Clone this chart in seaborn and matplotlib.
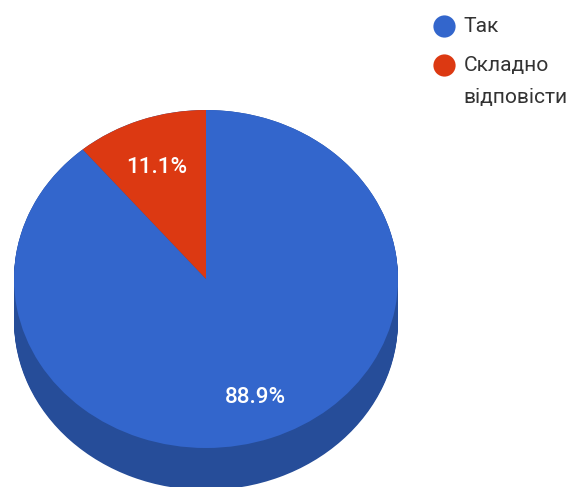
import numpy as np
import matplotlib.pyplot as plt
from matplotlib.lines import Line2D
import seaborn as sns

# Дані
labels = ['Так', 'Складно\nвідповісти']
values = [88.9, 11.1]
pct_labels = ['88.9%', '11.1%']
colors = ['#3366cc', '#dc3912']
side_color = '#264d99'

sns.set_theme(style='white')
plt.rcParams['font.family'] = ['Roboto', 'DejaVu Sans']

W, H = 568, 487
fig = plt.figure(figsize=(W / 100, H / 100), dpi=100)

# вісь охоплює верхній еліпс пирога (14..398, 110..448 px)
ax = fig.add_axes([14 / W, 1 - 448 / H, 384 / W, 338 / H])

# бічна стінка: шари темного кольору зі зсувом вниз
depth = 42 / 169
for off in np.linspace(depth, 0, 40):
    ax.pie([1], colors=[side_color], radius=1, center=(0, -off),
           wedgeprops={'linewidth': 0}, frame=False)

# верхня поверхня
ax.pie(values, colors=colors, startangle=90, counterclock=False,
       wedgeprops={'linewidth': 0}, frame=False)

ax.set_aspect('auto')
ax.set_xlim(-1, 1)
ax.set_ylim(-1, 1)
ax.set_xticks([])
ax.set_yticks([])
for p in ax.patches:
    p.set_clip_on(False)

# підписи відсотків
ax.text(0.255, -0.70, pct_labels[0], color='white', fontsize=16.2, fontweight='medium',
        ha='center', va='center')
ax.text(-0.255, 0.66, pct_labels[1], color='white', fontsize=16.2, fontweight='medium',
        ha='center', va='center')

# легенда: кружечок навпроти першого рядка підпису
tops = [26, 65]
for lab, c, y in zip(labels, colors, tops):
    fig.add_artist(Line2D([444 / W], [1 - y / H], marker='o', linestyle='', color=c,
                          markersize=16, markeredgewidth=0))
    fig.text(463.5 / W, 1 - (y - 9) / H, lab, fontsize=15.1, color='#333333', va='top',
             ha='left', linespacing=1.85)

fig.savefig('out.png', dpi=100)
